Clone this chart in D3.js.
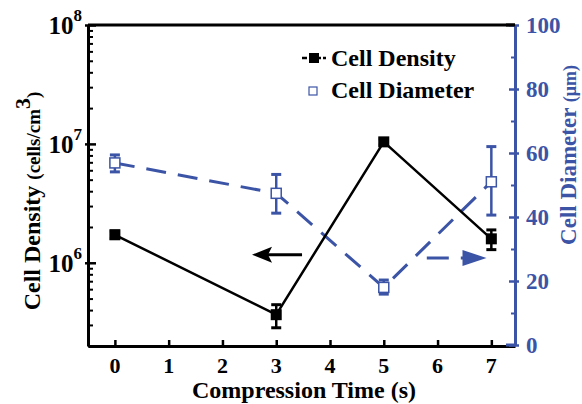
<!DOCTYPE html>
<html lang="en">
<head>
  <meta charset="UTF-8">
  <title>Cell Density and Diameter vs Compression Time</title>
  <script src="https://d3js.org/d3.v7.min.js"></script>
  <style>
    body { margin: 0; background: #ffffff; }
    text { font-family: "Liberation Serif", "Times New Roman", serif; font-weight: bold; }
  </style>
</head>
<body>
<svg width="582" height="404"></svg>
<script>
  // data
  const times = [0, 3, 5, 7];
  const density = [1.72e6, 3.66e5, 1.04e7, 1.59e6];
  const densityLow = [1.60e6, 2.84e5, 0.98e7, 1.29e6];
  const densityHigh = [1.85e6, 4.44e5, 1.10e7, 1.89e6];
  const diameter = [56.9, 47.4, 18.0, 51.0];
  const diameterLow = [54.1, 41.2, 15.9, 40.6];
  const diameterHigh = [59.4, 53.3, 20.3, 62.0];
  const xTicks = [0, 1, 2, 3, 4, 5, 6, 7];
  const leftTicks = [6, 7, 8];
  const rightTicks = [0, 20, 40, 60, 80, 100];

  const blue = "#3c54a6";
  const svg = d3.select("svg");
  const pLeft = 88, pRight = 515, pTop = 25, pBottom = 346;

  const x = d3.scaleLinear().domain([-0.5, 7.44]).range([pLeft, pRight]);
  const yL = d3.scaleLog().domain([Math.pow(10, 5.3), 1e8]).range([pBottom, pTop]);
  const yR = d3.scaleLinear().domain([0, 100]).range([345, pTop]);

  // frame top
  svg.append("line").attr("x1", pLeft).attr("x2", pRight).attr("y1", pTop).attr("y2", pTop)
    .attr("stroke", "#000").attr("stroke-width", 3);

  // bottom axis
  const xAxis = svg.append("g").attr("transform", `translate(0,${pBottom})`)
    .call(d3.axisBottom(x).tickValues(xTicks).tickSizeInner(-6).tickSizeOuter(0).tickFormat(""));
  xAxis.select(".domain").attr("stroke-width", 3);
  xAxis.selectAll(".tick line").attr("stroke-width", 2.5);
  svg.selectAll(".xlab").data(xTicks).join("text")
    .attr("x", d => x(d)).attr("y", 373).attr("text-anchor", "middle")
    .attr("font-size", 22).text(d => d);
  svg.append("text").attr("x", 304).attr("y", 398).attr("text-anchor", "middle")
    .attr("font-size", 24).text("Compression Time (s)");

  // left log axis
  const minors = [];
  for (let e = 5; e < 8; e++) for (let m = 2; m <= 9; m++) {
    const v = m * Math.pow(10, e);
    if (v >= yL.domain()[0]) minors.push(v);
  }
  const lAxis = svg.append("g").attr("transform", `translate(${pLeft},0)`)
    .call(d3.axisLeft(yL).tickValues(leftTicks.map(e => Math.pow(10, e))).tickSizeInner(-8).tickSizeOuter(0).tickFormat(""));
  lAxis.select(".domain").attr("stroke-width", 3);
  lAxis.selectAll(".tick line").attr("stroke-width", 2.5).attr("x1", -3);
  const lMinor = svg.append("g").attr("transform", `translate(${pLeft},0)`)
    .call(d3.axisLeft(yL).tickValues(minors).tickSizeInner(-5).tickSizeOuter(0).tickFormat(""));
  lMinor.select(".domain").remove();
  lMinor.selectAll(".tick line").attr("stroke-width", 2);

  const ll = svg.selectAll(".llab").data(leftTicks).join("text")
    .attr("x", 82).attr("y", d => yL(Math.pow(10, d)) + 9).attr("text-anchor", "end")
    .attr("font-size", 25);
  ll.append("tspan").text("10");
  ll.append("tspan").attr("dy", -13).attr("font-size", 17).text(d => d);

  const lt = svg.append("text").attr("transform", "translate(40,201) rotate(-90)")
    .attr("text-anchor", "middle").attr("font-size", 24);
  lt.append("tspan").text("Cell Density ");
  lt.append("tspan").attr("font-size", 19).text("(cells/cm");
  lt.append("tspan").attr("dy", -10).attr("font-size", 22).text("3");
  lt.append("tspan").attr("dy", 10).attr("font-size", 19).text(")");

  // right axis
  const rAxis = svg.append("g").attr("transform", `translate(${pRight},0)`)
    .call(d3.axisRight(yR).tickValues(rightTicks).tickSizeInner(4).tickSizeOuter(0).tickFormat(""));
  rAxis.select(".domain").attr("stroke", blue).attr("stroke-width", 3);
  rAxis.selectAll(".tick line").attr("stroke", blue).attr("stroke-width", 2.5).attr("x1", -6);
  const rMinor = svg.append("g").attr("transform", `translate(${pRight},0)`)
    .call(d3.axisLeft(yR).tickValues([10, 30, 50, 70, 90]).tickSizeInner(4).tickSizeOuter(0).tickFormat(""));
  rMinor.select(".domain").remove();
  rMinor.selectAll(".tick line").attr("stroke", blue).attr("stroke-width", 2);
  svg.append("line").attr("x1", 506).attr("x2", pRight).attr("y1", yR(0)).attr("y2", yR(0))
    .attr("stroke", blue).attr("stroke-width", 3);
  svg.append("line").attr("x1", 506).attr("x2", pRight).attr("y1", pTop).attr("y2", pTop)
    .attr("stroke", "#000").attr("stroke-width", 3);
  svg.selectAll(".rlab").data(rightTicks).join("text")
    .attr("x", 526).attr("y", d => yR(d) + 8).attr("fill", blue)
    .attr("font-size", 23).text(d => d);
  const rt = svg.append("text").attr("transform", "translate(576,155) rotate(-90)")
    .attr("text-anchor", "middle").attr("font-size", 23).attr("fill", blue);
  rt.append("tspan").text("Cell Diameter ");
  rt.append("tspan").attr("font-size", 18).text("(\u03bcm)");

  // diameter series (blue dashed, open squares)
  const idx = d3.range(times.length);
  svg.append("path").datum(idx)
    .attr("d", d3.line().x(i => x(times[i])).y(i => yR(diameter[i])))
    .attr("fill", "none").attr("stroke", blue).attr("stroke-width", 3)
    .attr("stroke-dasharray", "20,12");
  svg.selectAll(".rerr").data(idx).join("line")
    .attr("x1", i => x(times[i])).attr("x2", i => x(times[i]))
    .attr("y1", i => yR(diameterLow[i])).attr("y2", i => yR(diameterHigh[i]))
    .attr("stroke", blue).attr("stroke-width", 2.5);
  svg.selectAll(".rcap").data(idx.flatMap(i => [[i, diameterLow[i]], [i, diameterHigh[i]]])).join("line")
    .attr("x1", d => x(times[d[0]]) - 5).attr("x2", d => x(times[d[0]]) + 5)
    .attr("y1", d => yR(d[1])).attr("y2", d => yR(d[1]))
    .attr("stroke", blue).attr("stroke-width", 3);
  svg.selectAll(".rpt").data(idx).join("rect")
    .attr("x", i => x(times[i]) - 5).attr("y", i => yR(diameter[i]) - 5)
    .attr("width", 10).attr("height", 10)
    .attr("fill", "#fff").attr("stroke", blue).attr("stroke-width", 1.5);

  // density series (black solid, filled squares)
  svg.append("path").datum(idx)
    .attr("d", d3.line().x(i => x(times[i])).y(i => yL(density[i])))
    .attr("fill", "none").attr("stroke", "#000").attr("stroke-width", 2.5);
  svg.selectAll(".lerr").data(idx).join("line")
    .attr("x1", i => x(times[i])).attr("x2", i => x(times[i]))
    .attr("y1", i => yL(densityLow[i])).attr("y2", i => yL(densityHigh[i]))
    .attr("stroke", "#000").attr("stroke-width", 2.5);
  svg.selectAll(".lcap").data(idx.flatMap(i => [[i, densityLow[i]], [i, densityHigh[i]]])).join("line")
    .attr("x1", d => x(times[d[0]]) - 5).attr("x2", d => x(times[d[0]]) + 5)
    .attr("y1", d => yL(d[1])).attr("y2", d => yL(d[1]))
    .attr("stroke", "#000").attr("stroke-width", 3);
  svg.selectAll(".lpt").data(idx).join("rect")
    .attr("x", i => x(times[i]) - 5.5).attr("y", i => yL(density[i]) - 5.5)
    .attr("width", 11).attr("height", 11).attr("fill", "#000");

  // axis-pointing arrows
  const blackArrow = { from: 3.48, to: 2.55, value: 1.17e6 };
  const blueArrow = { from: 5.8, to: 6.91, value: 27.2 };
  const by = yL(blackArrow.value);
  svg.append("line").attr("x1", x(blackArrow.from)).attr("x2", x(blackArrow.to) + 14)
    .attr("y1", by).attr("y2", by).attr("stroke", "#000").attr("stroke-width", 3);
  svg.append("path")
    .attr("d", `M${x(blackArrow.to)},${by} l20,-8 l-4,8 l4,8 z`).attr("fill", "#000");
  const ry = yR(blueArrow.value);
  svg.append("line").attr("x1", x(blueArrow.from)).attr("x2", x(blueArrow.to) - 14)
    .attr("y1", ry).attr("y2", ry).attr("stroke", blue).attr("stroke-width", 3)
    .attr("stroke-dasharray", "22,12");
  svg.append("path")
    .attr("d", `M${x(blueArrow.to)},${ry} l-24,-8 l0,16 z`).attr("fill", blue);

  // legend
  svg.append("line").attr("x1", 302).attr("x2", 326).attr("y1", 58).attr("y2", 58)
    .attr("stroke", "#000").attr("stroke-width", 2.5).attr("stroke-dasharray", "5,2");
  svg.append("rect").attr("x", 309).attr("y", 53).attr("width", 10).attr("height", 10).attr("fill", "#000");
  svg.append("text").attr("x", 331).attr("y", 66).attr("font-size", 24).text("Cell Density");
  svg.append("rect").attr("x", 309).attr("y", 87).attr("width", 8).attr("height", 8)
    .attr("fill", "#fff").attr("stroke", blue).attr("stroke-width", 1.2);
  svg.append("text").attr("x", 331).attr("y", 98).attr("font-size", 24).text("Cell Diameter");
</script>
</body>
</html>
